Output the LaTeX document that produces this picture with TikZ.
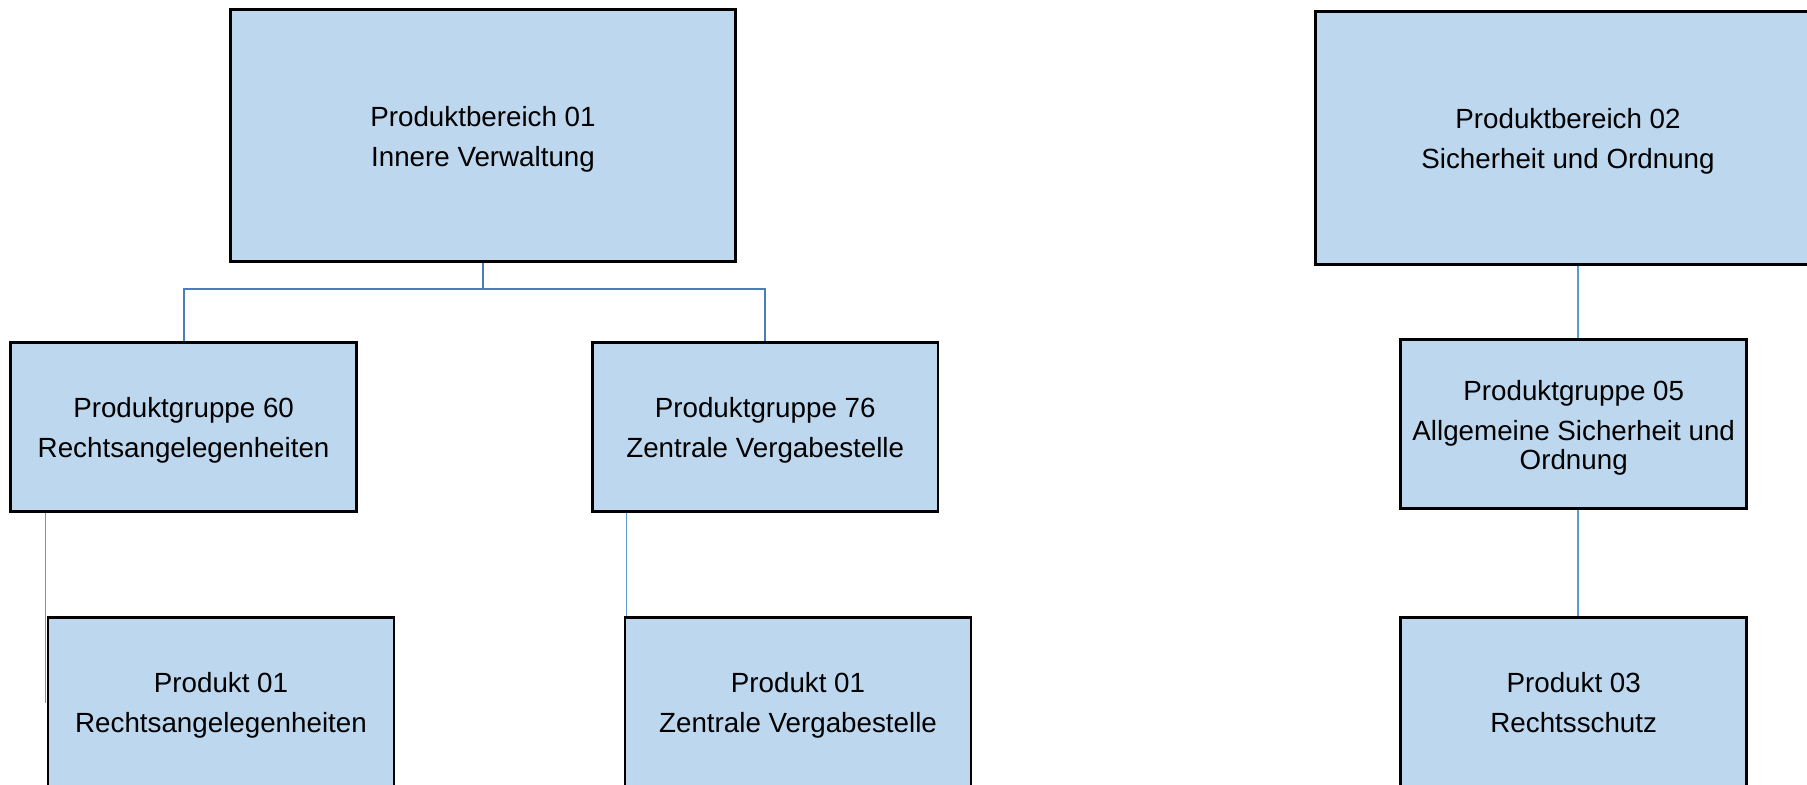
\documentclass[tikz,border=0pt]{standalone}
\usepackage{fontspec}
\setmainfont{Liberation Sans}
\definecolor{boxblue}{RGB}{189,215,238}
\definecolor{linkdark}{RGB}{74,126,187}
\definecolor{linklight}{RGB}{91,155,213}
\newcommand{\kopf}{\rule{0pt}{15.5pt}}
\newcommand{\fuss}{\rule[-3.3pt]{0pt}{3.3pt}}
\begin{document}
\begin{tikzpicture}[x=0.02cm, y=-0.02cm,
    bereich/.style={draw, line width=1.5pt, fill=boxblue, minimum width=10.11cm,
        minimum height=5.05cm, align=center, inner sep=0pt,
        font=\fontsize{15.8}{16.8}\selectfont},
    gruppe/.style={bereich, minimum width=6.92cm, minimum height=3.38cm},
    link/.style={draw, line width=1.1pt, linklight}]

    \useasboundingbox (0,0) rectangle (1807,784);
    \clip (0,0) rectangle (1807,784);

    % Produktbereiche
    \node[bereich] (pb01) at (483,135.5) {\kopf Produktbereich 01\\[6pt]Innere Verwaltung};
    \node[bereich] (pb02) at (1568,138) {\kopf Produktbereich 02\\[6pt]Sicherheit und Ordnung};

    % Produktgruppen
    \node[gruppe] (pg60) at (183.6,426.8) {\kopf Produktgruppe 60\\[6pt]Rechtsangelegenheiten};
    \node[gruppe] (pg76) at (765.2,426.8) {\kopf Produktgruppe 76\\[6pt]Zentrale Vergabestelle};
    \node[gruppe] (pg05) at (1573.7,424.2) {\kopf Produktgruppe 05\\[6pt]Allgemeine Sicherheit und\\Ordnung};

    % Produkte
    \node[gruppe] (p01r) at (221,701.7) {\kopf Produkt 01\\[6pt]Rechtsangelegenheiten};
    \node[gruppe] (p01v) at (798,701.7) {\kopf Produkt 01\\[6pt]Zentrale Vergabestelle};
    \node[gruppe] (p03) at (1573.7,701.7) {\kopf Produkt 03\\[6pt]Rechtsschutz\fuss};

    % Hilfspunkte
    \coordinate (split) at (483,289);
    \coordinate (k05) at (1578,0);
    \coordinate (k60) at (45.5,703);
    \coordinate (k76) at (626.5,0);

    % Linien links
    \path[link, linkdark] (pb01.south) -- (split);
    \path[link, linkdark] (split) -| (pg60.north);
    \path[link, linkdark] (split) -| (pg76.north);
    \path[link] (pg60.south -| k60) -- (k60);
    \path[link] (pg76.south -| k76) -- (p01v.north -| k76);

    % Linien rechts
    \path[link] (pb02.south -| k05) -- (pg05.north -| k05);
    \path[link] (pg05.south -| k05) -- (p03.north -| k05);

\end{tikzpicture}
\end{document}
